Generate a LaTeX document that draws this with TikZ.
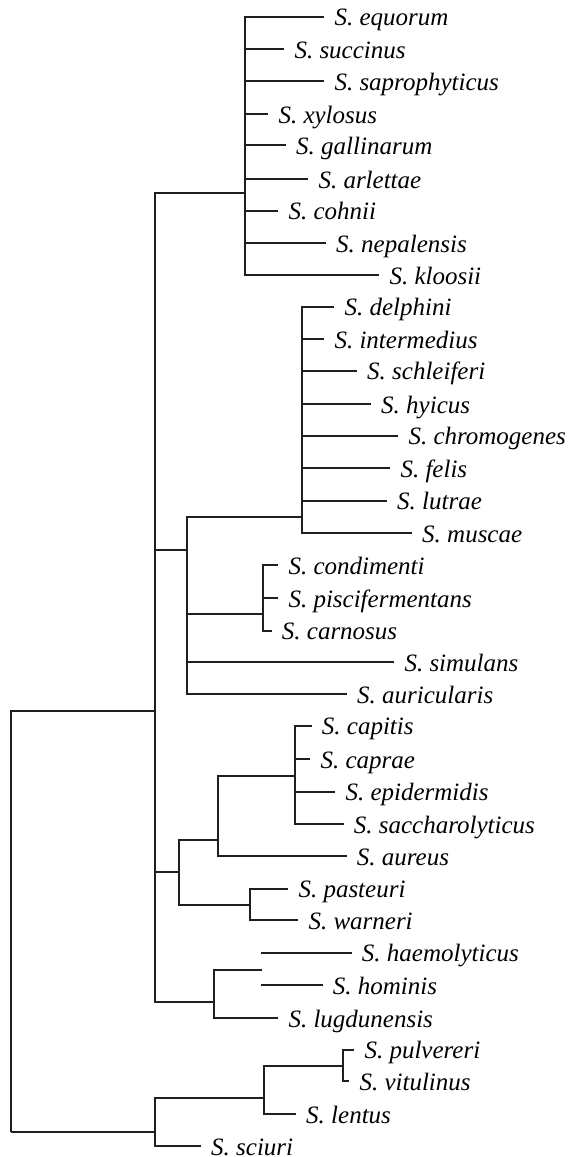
\documentclass[tikz,border=0pt]{standalone}
\usepackage{fontspec}
\setmainfont{Liberation Serif}
\tikzset{
  br/.style={draw=black!88, line width=1.7pt},
  leaf/.style={inner sep=0pt, anchor=base west, text=black, font=\fontsize{25}{30}\selectfont\itshape}
}
\begin{document}
\begin{tikzpicture}[x=1pt,y=-1pt]
\useasboundingbox (0,0) rectangle (571,1157);
% internal nodes
\coordinate (root) at (11,1132);
\coordinate (nMain) at (155,710.7);
\coordinate (nA) at (245.3,192.7);
\coordinate (nB2) at (187.3,550);
\coordinate (nB) at (301.7,516.7);
\coordinate (nC) at (262.7,614);
\coordinate (nDF) at (179.3,872);
\coordinate (nD) at (218.3,840);
\coordinate (nE) at (295,776);
\coordinate (nF) at (250,904.7);
\coordinate (nG) at (214.3,1002);
\coordinate (gstub) at (262.3,970.3);
\coordinate (nH0) at (155,1132);
\coordinate (nH) at (264.3,1098);
\coordinate (nI) at (343.3,1066.3);
\coordinate (s-haemolyticus) at (261,952.7);
\coordinate (s-hominis) at (261,985.3);
% leaves
\foreach \n/\e/\y in {
  equorum/324.3/16.7, succinus/284.3/49, saprophyticus/324.3/81, xylosus/268.3/114.3,
  gallinarum/286/145.3, arlettae/308.3/179, cohnii/278.3/210.7, nepalensis/326/243,
  kloosii/379.3/275,
  delphini/334.3/306.7, intermedius/324.3/339, schleiferi/357/370.7, hyicus/371/404,
  chromogenes/398.3/435.7, felis/390.3/468.3, lutrae/387/500.7, muscae/412/533,
  condimenti/278.3/565, piscifermentans/278.3/598.3, carnosus/271.7/630.7,
  simulans/394.3/662.3, auricularis/347/694.3,
  capitis/311.7/725.7, caprae/310.3/759, epidermidis/335.3/791.7, saccharolyticus/343.7/824.3,
  aureus/346.7/856, pasteuri/288.3/888.7, warneri/298.3/920.3,
  haemolyticus/351.7/952.7, hominis/322.7/985.3, lugdunensis/278.3/1018,
  pulvereri/354.3/1049.7, vitulinus/349.3/1081.3, lentus/296/1114.3, sciuri/201/1146}
{
  \coordinate (e-\n) at (\e,\y);
  \node[leaf] (\n) at (\e+10,\y+9) {S.\ \n};
}
% connectors
\draw[br] (root) |- (nMain);
\draw[br] (root) -- (nH0);
\foreach \c in {nA,nB2,nDF,nG} \draw[br] (nMain) |- (\c);
\foreach \n in {equorum,succinus,saprophyticus,xylosus,gallinarum,arlettae,cohnii,nepalensis,kloosii}
  \draw[br] (nA) |- (e-\n);
\foreach \c in {nB,nC,e-simulans,e-auricularis} \draw[br] (nB2) |- (\c);
\foreach \n in {delphini,intermedius,schleiferi,hyicus,chromogenes,felis,lutrae,muscae}
  \draw[br] (nB) |- (e-\n);
\foreach \n in {condimenti,piscifermentans,carnosus} \draw[br] (nC) |- (e-\n);
\foreach \c in {nD,nF} \draw[br] (nDF) |- (\c);
\foreach \c in {nE,e-aureus} \draw[br] (nD) |- (\c);
\foreach \n in {capitis,caprae,epidermidis,saccharolyticus} \draw[br] (nE) |- (e-\n);
\foreach \n in {pasteuri,warneri} \draw[br] (nF) |- (e-\n);
\foreach \c in {gstub,e-lugdunensis} \draw[br] (nG) |- (\c);
\draw[br] (s-haemolyticus) -- (e-haemolyticus);
\draw[br] (s-hominis) -- (e-hominis);
\foreach \c in {nH,e-sciuri} \draw[br] (nH0) |- (\c);
\foreach \c in {nI,e-lentus} \draw[br] (nH) |- (\c);
\foreach \n in {pulvereri,vitulinus} \draw[br] (nI) |- (e-\n);
\end{tikzpicture}
\end{document}
